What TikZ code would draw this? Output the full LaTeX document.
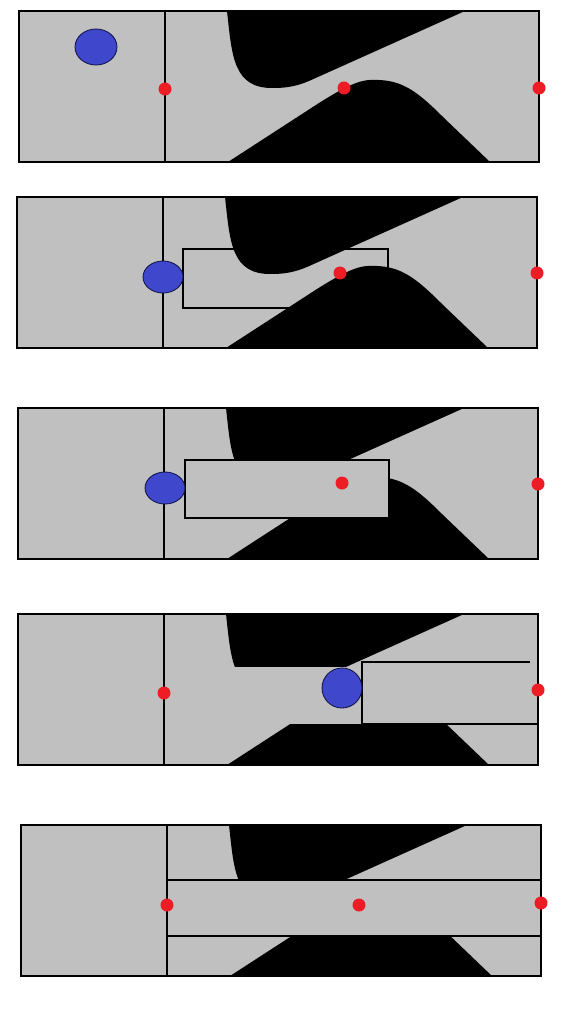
\documentclass[tikz,border=0pt]{standalone}
\usepackage{tikz}
\usetikzlibrary{calc,positioning}
\definecolor{freegray}{RGB}{192,192,192}
\definecolor{dotred}{RGB}{238,28,36}
\definecolor{robotblue}{RGB}{63,72,204}
\definecolor{robotedge}{RGB}{16,20,70}

\begin{document}
\begin{tikzpicture}[x=0.25mm,y=-0.25mm,
    wall/.style={black,line width=1.3pt},
    thinwall/.style={black,line width=1.1pt},
    free/.style={fill=freegray,draw=none},
    obst/.style={fill=black,draw=none},
    target/.style={fill=dotred,draw=none},
    robot/.style={fill=robotblue,draw=robotedge,line width=0.6pt},
    obstacles/.pic={
      \fill[obst] (208,0) .. controls (213,45) and (214,78) .. (255,77)
        .. controls (268,77) and (278,75) .. (290,70) -- (446,0) -- cycle;
      \fill[obst] (209,151) -- (300,92) .. controls (335,70) and (345,68) .. (360,69)
        .. controls (385,70) and (400,82) .. (425,107) -- (471,151) -- cycle;
    }]
    \pgfmathsetmacro{\W}{520}
    \pgfmathsetmacro{\H}{151}
    \pgfmathsetmacro{\dv}{146}
    \useasboundingbox (0,0) rectangle (561,1009);

    % panel 1
    \begin{scope}[shift={(19,11)}]
    \fill[free] (0,0) rectangle (\W,\H);
    \pic {obstacles};
    \draw[wall] (0,0) rectangle (\W,\H) (\dv,0) -- (\dv,\H);
    \draw[robot] (77,36) ellipse (21 and 18);
    \coordinate (a1) at (\dv,78);
    \coordinate (a2) at (325,77);
    \coordinate (a3) at (\W,77);
    \foreach \p in {a1,a2,a3} \fill[target] (\p) circle (6.5);
    \end{scope}

    % panel 2
    \begin{scope}[shift={(17,197)}]
    \fill[free] (0,0) rectangle (\W,\H);
    \draw[thinwall] (166,52) rectangle (371,111);
    \pic {obstacles};
    \draw[wall] (0,0) rectangle (\W,\H) (\dv,0) -- (\dv,\H);
    \draw[robot] (\dv,80) ellipse (20 and 16);
    \coordinate (b2) at (323,76);
    \coordinate (b3) at (\W,76);
    \foreach \p in {b2,b3} \fill[target] (\p) circle (6.5);
    \end{scope}

    % panel 3
    \begin{scope}[shift={(18,408)}]
    \fill[free] (0,0) rectangle (\W,\H);
    \pic {obstacles};
    \draw[thinwall,fill=freegray] (167,52) rectangle (371,110);
    \draw[wall] (0,0) rectangle (\W,\H) (\dv,0) -- (\dv,\H);
    \draw[robot] (147,80) ellipse (20 and 16);
    \coordinate (c2) at (324,75);
    \coordinate (c3) at (\W,76);
    \foreach \p in {c2,c3} \fill[target] (\p) circle (6.5);
    \end{scope}

    % panel 4
    \begin{scope}[shift={(18,614)}]
    \fill[free] (0,0) rectangle (\W,\H);
    \pic {obstacles};
    \fill[free] (150,53) rectangle (\W,110);
    \draw[thinwall] (512,48) -- (344,48) -- (344,110) -- (\W,110);
    \draw[wall] (0,0) rectangle (\W,\H) (\dv,0) -- (\dv,\H);
    \draw[robot] (324,74) circle (20);
    \coordinate (d1) at (\dv,79);
    \coordinate (d3) at (\W,76);
    \foreach \p in {d1,d3} \fill[target] (\p) circle (6.5);
    \end{scope}

    % panel 5
    \begin{scope}[shift={(21,825)}]
    \fill[free] (0,0) rectangle (\W,\H);
    \pic {obstacles};
    \fill[free] (\dv,55) rectangle (\W,111);
    \draw[thinwall] (\dv,55) -- (\W,55) (\dv,111) -- (\W,111);
    \draw[wall] (0,0) rectangle (\W,\H) (\dv,0) -- (\dv,\H);
    \coordinate (e1) at (\dv,80);
    \coordinate (e2) at (338,80);
    \coordinate (e3) at (\W,78);
    \foreach \p in {e1,e2,e3} \fill[target] (\p) circle (6.5);
    \end{scope}
\end{tikzpicture}
\end{document}
